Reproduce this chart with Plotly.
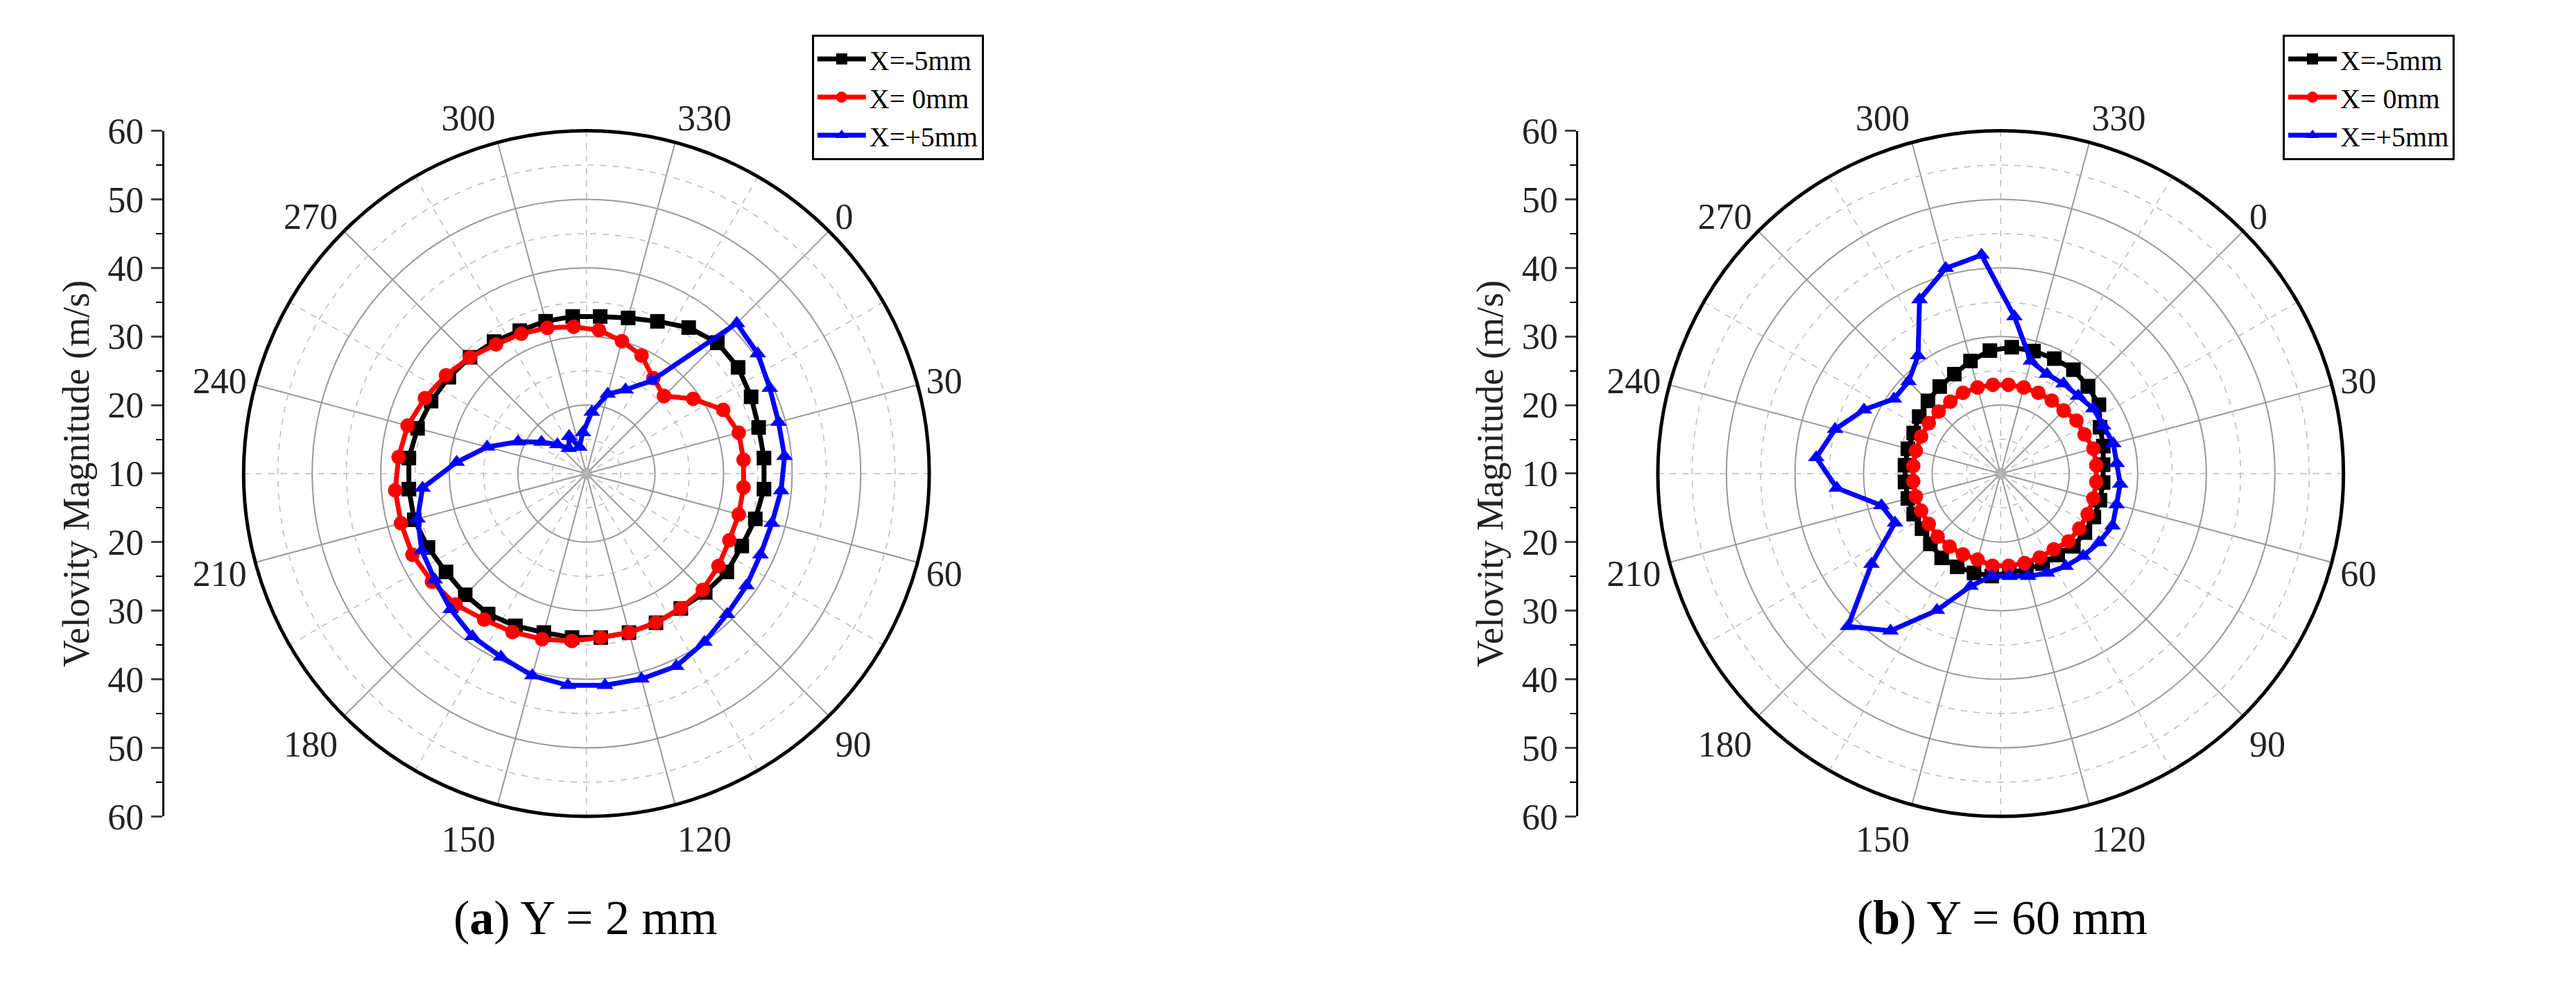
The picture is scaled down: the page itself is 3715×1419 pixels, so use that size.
import plotly.graph_objects as go

angles = list(range(0, 360, 10))
a_black = [37,37,36.5,36,36,36,35.5,35,35,34.5,34,34,34,34,34,34,34.5,35,35,35,35.5,36,36,36,35.5,35,34.5,34,33.5,33,33,33,33,33.5,34.5,36]
a_red = [26,29,32,33,33,33,33,33,33.5,34,34,34,34,34,34.5,35,35.5,36,37,37.5,38,38,38,37.5,37,36,35,34,33,32.5,32,31.5,31,30,29,27]
a_blue = [41,40.5,39.5,39,39,38.5,38,38,38.5,39,40,41,41,41,41,40.5,39.5,39,38,37,36.5,35.5,34,29,25,21,18,16,14.5,16,14,16,19,22,23.5,26.5]
b_black = [28,27.5,26,25.5,25,25,25,25,25,25,24.5,24.5,24.5,24.5,25,25,25,25,24.5,24,24,24,24,24,24,24,24.5,25,25.5,26,27,28,28.5,28.5,28.5,28.5]
b_red = [23,23.5,23.5,24,24,24,24,24,24,24,23.5,23.5,23.5,23.5,23.5,23,23,23,23,22.8,22.8,22.8,22.8,22.8,22.8,22.8,22.8,22.8,22.8,23,23,23,23,23,23,23]
b_blue = [26,26.5,26.5,27,27,27.5,27.5,28,27.5,27,26.5,26,25.5,25,25,27,32,38,41.5,33,27,28,34,37,35,32,29,29,31,38,41,42,33,27,26,26]

series_names = ["X=-5mm", "X= 0mm", "X=+5mm"]
colors = ["black", "red", "blue"]
symbols = ["square", "circle", "triangle-up"]
ang_ticks = list(range(0, 360, 30))
r_ticks = [20, 30, 40, 50, 60]
minor_r = [15, 25, 35, 45, 55]
minor_ang = list(range(15, 360, 30))
side_vals = [-50,-40,-30,-20,-10,0,10,20,30,40,50]
side_text = ["60","50","40","30","20","10","20","30","40","50","60"]

FONT = "Liberation Serif"
fig = go.Figure()

def add_panel(sub, data, legend):
    for r in minor_r:
        fig.add_trace(go.Scatterpolar(r=[r]*361, theta=list(range(361)), mode="lines",
                                      line=dict(color="#bbbbbb", width=1.5, dash="dash"),
                                      subplot=sub, showlegend=False, hoverinfo="skip"))
    for a in minor_ang:
        fig.add_trace(go.Scatterpolar(r=[10, 60], theta=[a, a], mode="lines",
                                      line=dict(color="#bbbbbb", width=1.5, dash="dash"),
                                      subplot=sub, showlegend=False, hoverinfo="skip"))
    for vals, name, c, s in zip(data, series_names, colors, symbols):
        fig.add_trace(go.Scatterpolar(r=vals + [vals[0]], theta=angles + [angles[0]],
                                      mode="lines+markers", name=name,
                                      line=dict(color=c, width=7),
                                      marker=dict(symbol=s, size=21, color=c),
                                      subplot=sub, legend=legend))

add_panel("polar", [a_black, a_red, a_blue], "legend")
add_panel("polar2", [b_black, b_red, b_blue], "legend2")

fig.add_trace(go.Scatter(x=[0], y=[0], mode="markers", marker=dict(opacity=0), showlegend=False, hoverinfo="skip", xaxis="x", yaxis="y"))
fig.add_trace(go.Scatter(x=[0], y=[0], mode="markers", marker=dict(opacity=0), showlegend=False, hoverinfo="skip", xaxis="x", yaxis="y2"))

polar_common = dict(
    bgcolor="white",
    angularaxis=dict(rotation=45, direction="clockwise", tickvals=ang_ticks,
                     ticktext=[str(v) for v in ang_ticks], showline=True, linecolor="black",
                     linewidth=5, gridcolor="#999999", gridwidth=1.5, ticks="",
                     tickfont=dict(family=FONT, size=52, color="#222")),
    radialaxis=dict(range=[10, 60], tickvals=r_ticks, showticklabels=False, ticks="",
                    showline=False, gridcolor="#999999", gridwidth=1.5),
)
ydom = [0.162, 0.888]

def side_axis(pos):
    return dict(domain=ydom, range=[-50, 50], anchor="free", position=pos, side="left",
                tickvals=side_vals, ticktext=side_text, showline=True, linecolor="black",
                linewidth=3, ticks="outside", ticklen=16, tickwidth=3, showgrid=False, zeroline=False,
                minor=dict(dtick=5, ticks="outside", ticklen=9, tickwidth=2, tickcolor="black"),
                tickfont=dict(family=FONT, size=52, color="#222"),
                title=dict(text="Velovity Magnitude (m/s)", font=dict(family=FONT, size=54, color="#222"), standoff=8))

def leg(x):
    return dict(x=x, y=0.99, xanchor="left", yanchor="top", bgcolor="white",
                bordercolor="black", borderwidth=3, font=dict(family=FONT, size=40, color="black"),
                tracegroupgap=0, itemwidth=70)

fig.update_layout(
    width=3715, height=1419, paper_bgcolor="white", plot_bgcolor="rgba(0,0,0,0)",
    margin=dict(l=0, r=0, t=0, b=0),
    polar=dict(domain=dict(x=[0.087, 0.364], y=ydom), **polar_common),
    polar2=dict(domain=dict(x=[0.636, 0.913], y=ydom), **polar_common),
    xaxis=dict(domain=[0.99, 1.0], visible=False),
    yaxis=side_axis(0.061),
    yaxis2=side_axis(0.61),
    legend=leg(0.313),
    legend2=leg(0.884),
    annotations=[
        dict(text="(<b>a</b>) Y = 2 mm", x=0.225, y=0.025, xref="paper", yref="paper", showarrow=False,
             xanchor="center", yanchor="bottom", font=dict(family=FONT, size=70, color="black")),
        dict(text="(<b>b</b>) Y = 60 mm", x=0.775, y=0.025, xref="paper", yref="paper", showarrow=False,
             xanchor="center", yanchor="bottom", font=dict(family=FONT, size=70, color="black")),
    ],
)
fig.write_html("out.html")
